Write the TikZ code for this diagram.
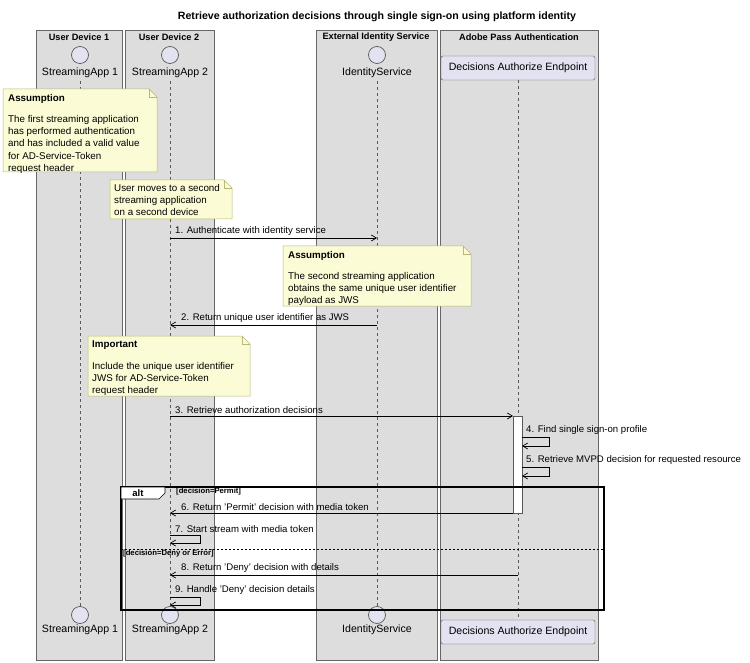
\documentclass[tikz,border=0pt]{standalone}
\usepackage{fontspec}
\setmainfont{Liberation Sans}
\usetikzlibrary{arrows.meta}
\definecolor{boxgray}{HTML}{DDDDDD}
\definecolor{partfill}{HTML}{E2E2F0}
\definecolor{notefill}{HTML}{FBFBD6}
\definecolor{notedraw}{HTML}{B7B77A}
\begin{document}
\begin{tikzpicture}[x=1pt,y=-1pt,
  box/.style={fill=boxgray,draw=gray!80!black,line width=0.6pt},
  life/.style={draw=gray!70!black,dash pattern=on 3pt off 3pt,line width=0.5pt},
  actor/.style={circle,draw=gray!70!black,fill=partfill,minimum size=17pt,inner sep=0pt,line width=0.7pt},
  pname/.style={font=\fontsize{10.6}{13}\selectfont},
  boxt/.style={font=\bfseries\fontsize{9.2}{11}\selectfont},
  msg/.style={-{Straight Barb[length=5pt,width=6pt]},line width=0.7pt},
  lab/.style={font=\fontsize{9.6}{12}\selectfont,anchor=south west,inner sep=1pt},
  note/.style={fill=notefill,draw=notedraw,line width=0.5pt},
  ntext/.style={font=\fontsize{9.8}{12.2}\selectfont,anchor=north west,align=left,inner sep=0pt},
  guard/.style={font=\bfseries\fontsize{7.7}{9}\selectfont,anchor=west,inner sep=0pt},
  rect/.style={draw=gray!70!black,fill=partfill,rounded corners=2pt,minimum width=154pt,minimum height=24pt,font=\fontsize{10.6}{13}\selectfont}]
\useasboundingbox (0,0) rectangle (750,663);
\node[font=\bfseries\fontsize{10.6}{13}\selectfont] (title) at (377,17) {Retrieve authorization decisions through single sign-on using platform identity};
% boxes
\draw[box] (36,30) rectangle (122,660);
\draw[box] (125,30) rectangle (214,660);
\draw[box] (316,30) rectangle (437,660);
\draw[box] (440,30) rectangle (598,660);
\node[boxt] (b1) at (79,37) {User Device 1};
\node[boxt] (b2) at (169,37) {User Device 2};
\node[boxt] (b3) at (376,37) {External Identity Service};
\node[boxt] (b4) at (519,37) {Adobe Pass Authentication};
% participants
\node[actor] (a1) at (80,55) {};
\node[actor] (a2) at (170,55) {};
\node[actor] (a3) at (377,55) {};
\node[pname] (n1) at (80,73) {StreamingApp 1};
\node[pname] (n2) at (170,73) {StreamingApp 2};
\node[pname] (n3) at (377,73) {IdentityService};
\node[rect] (d) at (518,68) {Decisions Authorize Endpoint};
\node[actor] (a1b) at (80,615) {};
\node[actor] (a2b) at (170,615) {};
\node[actor] (a3b) at (377,615) {};
\node[pname] (n1b) at (80,630) {StreamingApp 1};
\node[pname] (n2b) at (170,630) {StreamingApp 2};
\node[pname] (n3b) at (377,630) {IdentityService};
\node[rect] (db) at (518,632) {Decisions Authorize Endpoint};
\draw[life] (n1.south) -- (a1b.north);
\draw[life] (n2.south) -- (a2b.north);
\draw[life] (n3.south) -- (a3b.north);
\draw[life] (d.south) -- (db.north);
% notes
\draw[note] (3,89) -- (149,89) -- (157,97) -- (157,172) -- (3,172) -- cycle;
\draw[notedraw,line width=0.5pt] (149,89) -- (149,97) -- (157,97);
\node[ntext] (t1) at (8,94) {\textbf{Assumption}\\[9pt]The first streaming application\\has performed authentication\\and has included a valid value\\for AD-Service-Token\\request header};
\draw[note] (110,180) -- (224,180) -- (232,188) -- (232,219) -- (110,219) -- cycle;
\draw[notedraw,line width=0.5pt] (224,180) -- (224,188) -- (232,188);
\node[ntext] (t2) at (114,184) {User moves to a second\\streaming application\\on a second device};
\draw[note] (283,246) -- (463,246) -- (471,254) -- (471,306) -- (283,306) -- cycle;
\draw[notedraw,line width=0.5pt] (463,246) -- (463,254) -- (471,254);
\node[ntext] (t3) at (288,251) {\textbf{Assumption}\\[9pt]The second streaming application\\obtains the same unique user identifier\\payload as JWS};
\draw[note] (88,336) -- (242,336) -- (250,344) -- (250,396) -- (88,396) -- cycle;
\draw[notedraw,line width=0.5pt] (242,336) -- (242,344) -- (250,344);
\node[ntext] (t4) at (92,341) {\textbf{Important}\\[9pt]Include the unique user identifier\\JWS for AD-Service-Token\\request header};
% activation
\draw[fill=white,draw=gray!70!black] (513,416) rectangle (522,513);
% coordinates
\coordinate (s1) at (170,238); \coordinate (e1) at (377,238);
\coordinate (s2) at (377,325); \coordinate (e2) at (170,325);
\coordinate (s3) at (170,416); \coordinate (e3) at (513,416);
\coordinate (s6) at (513,513); \coordinate (e6) at (170,513);
\coordinate (s8) at (518,575); \coordinate (e8) at (170,575);
\draw[msg] (s1) -- (e1);
\node[lab] (l1) at (174,237) {1. Authenticate with identity service};
\draw[msg] (s2) -- (e2);
\node[lab] (l2) at (180,324) {2. Return unique user identifier as JWS};
\draw[msg] (s3) -- (e3);
\node[lab] (l3) at (174,415) {3. Retrieve authorization decisions};
\node[lab] (l4) at (525,436) {4. Find single sign-on profile};
\draw[msg] (522,437) -- (549,437) -- (549,446) -- (522,446);
\node[lab] (l5) at (525,466) {5. Retrieve MVPD decision for requested resource};
\draw[msg] (522,467) -- (549,467) -- (549,476) -- (522,476);
% alt frame
\draw[line width=1.2pt] (121,487) rectangle (604,610);
\draw[line width=0.7pt,fill=white] (121,487) -- (165,487) -- (165,493) -- (159,499) -- (121,499) -- cycle;
\node[font=\bfseries\fontsize{9.5}{11}\selectfont] (alt) at (138,493) {alt};
\node[guard] (g1) at (176,492) {[decision=Permit]};
\draw[msg] (s6) -- (e6);
\node[lab] (l6) at (180,512) {6. Return 'Permit' decision with media token};
\node[lab] (l7) at (174,534) {7. Start stream with media token};
\draw[msg] (170,535) -- (200,535) -- (200,543) -- (170,543);
\draw[dash pattern=on 2pt off 2pt,line width=0.5pt] (121,549) -- (604,549);
\node[guard] (g2) at (123,554) {[decision=Deny or Error]};
\draw[msg] (s8) -- (e8);
\node[lab] (l8) at (180,574) {8. Return 'Deny' decision with details};
\node[lab] (l9) at (174,596) {9. Handle 'Deny' decision details};
\draw[msg] (170,597) -- (200,597) -- (200,605) -- (170,605);
\end{tikzpicture}
\end{document}
